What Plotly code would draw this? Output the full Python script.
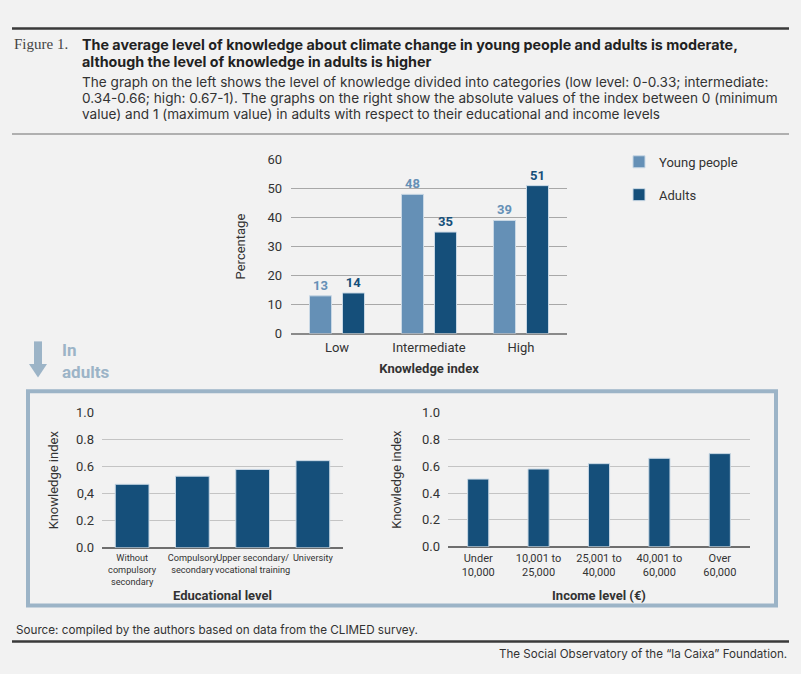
import plotly.graph_objects as go

W, H = 801, 674

# --- data ---
knowledge_levels = ["Low", "Intermediate", "High"]
young_pct = [13, 48, 39]
adults_pct = [14, 35, 51]

edu_levels = ["Without<br>compulsory<br>secondary", "Compulsory<br>secondary",
              "Upper secondary/<br>vocational training", "University"]
edu_index = [0.47, 0.53, 0.58, 0.645]

income_levels = ["Under<br>10,000", "10,001 to<br>25,000", "25,001 to<br>40,000",
                 "40,001 to<br>60,000", "Over<br>60,000"]
income_index = [0.505, 0.58, 0.62, 0.66, 0.695]

pct_ticks = [0, 10, 20, 30, 40, 50, 60]
idx_ticks = [0, 0.2, 0.4, 0.6, 0.8, 1.0]
idx_ticktext = ["0.0", "0.2", "0,4", "0.6", "0.8", "1.0"]
idx_ticktext_r = ["0.0", "0.2", "0.4", "0.6", "0.8", "1.0"]

title_lines = [
    "The average level of knowledge about climate change in young people and adults is moderate,",
    "although the level of knowledge in adults is higher",
]
note_lines = [
    "The graph on the left shows the level of knowledge divided into categories (low level: 0-0.33; intermediate:",
    "0.34-0.66; high: 0.67-1). The graphs on the right show the absolute values of the index between 0 (minimum",
    "value) and 1 (maximum value) in adults with respect to their educational and income levels",
]

LIGHT = "#6590b6"
DARK = "#154f7a"
FRAME = "#9cb4c7"
BG = "#f2f2f2"
TXT = "#333333"
SANS = "Roboto, Inter, sans-serif"
WIDE = "Inter, Roboto, sans-serif"
SERIF = "Liberation Serif, DejaVu Serif, serif"


def px(x):
    return x / W


def py(y):
    return 1 - y / H


fig = go.Figure()

fig.add_trace(go.Bar(
    x=knowledge_levels, y=young_pct, name="Young people",
    marker=dict(color=LIGHT, line=dict(color="#c9d8e5", width=1)),
    text=young_pct, textposition="outside", cliponaxis=False,
    textfont=dict(color=LIGHT, size=13, weight="bold", family=SANS),
    legendgroup="a", xaxis="x", yaxis="y"))
fig.add_trace(go.Bar(
    x=knowledge_levels, y=adults_pct, name="Adults",
    marker=dict(color=DARK, line=dict(color="#c9d8e5", width=1)),
    text=adults_pct, textposition="outside", cliponaxis=False,
    textfont=dict(color=DARK, size=13, weight="bold", family=SANS),
    legendgroup="b", xaxis="x", yaxis="y"))

fig.add_trace(go.Bar(
    x=edu_levels, y=edu_index, showlegend=False, width=0.56,
    marker=dict(color=DARK, line=dict(color="#c9d8e5", width=1)),
    xaxis="x2", yaxis="y2"))
fig.add_trace(go.Bar(
    x=income_levels, y=income_index, showlegend=False, width=0.35,
    marker=dict(color=DARK, line=dict(color="#c9d8e5", width=1)),
    xaxis="x3", yaxis="y3"))

tick_font = dict(family=SANS, size=13, color=TXT)
title_font = dict(family=SANS, size=13, color=TXT, weight="bold")

fig.update_layout(
    width=W, height=H,
    margin=dict(l=0, r=0, t=0, b=0),
    paper_bgcolor=BG, plot_bgcolor=BG,
    barmode="group", bargap=0.283, bargroupgap=0.333,
    font=dict(family=SANS, color=TXT),
    showlegend=True,
    legend=dict(x=px(619), y=py(143), xanchor="left", yanchor="top",
                bgcolor="rgba(0,0,0,0)", font=dict(family=SANS, size=13, color=TXT),
                tracegroupgap=13, itemclick=False),
    xaxis=dict(domain=[px(291), px(567)], anchor="y", showgrid=False,
               tickfont=tick_font, ticks="", ticklabelstandoff=4,
               title=dict(text="Knowledge index", font=title_font, standoff=10)),
    yaxis=dict(domain=[py(334), py(156)], anchor="x", range=[0, 60],
               tickvals=pct_ticks, tickfont=tick_font, ticks="",
               ticklabelstandoff=8, gridcolor="#a8a8a8", gridwidth=1,
               zeroline=True, zerolinecolor="#8a8a8a", zerolinewidth=2,
               title=dict(text="Percentage", font=dict(family=SANS, size=13, color=TXT),
                          standoff=18)),
    xaxis2=dict(domain=[px(102), px(343)], anchor="y2", showgrid=False,
                tickfont=dict(family=SANS, size=9.2, color=TXT), ticks="", tickangle=0,
                ticklabelstandoff=3,
                title=dict(text="Educational level", font=title_font, standoff=5)),
    yaxis2=dict(domain=[py(553), py(415)], anchor="x2", range=[0, 1],
                tickvals=idx_ticks, ticktext=idx_ticktext, tickfont=tick_font,
                ticks="", ticklabelstandoff=7, gridcolor="#c4c4c4",
                zeroline=True, zerolinecolor="#6e6e6e", zerolinewidth=1.5,
                title=dict(text="Knowledge index", font=dict(family=SANS, size=13, color=TXT),
                           standoff=14)),
    xaxis3=dict(domain=[px(448), px(750)], anchor="y3", showgrid=False,
                tickfont=dict(family=SANS, size=11, color=TXT), ticks="", tickangle=0,
                ticklabelstandoff=3,
                title=dict(text="Income level (€)", font=title_font, standoff=12)),
    yaxis3=dict(domain=[py(552), py(415)], anchor="x3", range=[0, 1],
                tickvals=idx_ticks, ticktext=idx_ticktext_r, tickfont=tick_font,
                ticks="", ticklabelstandoff=7, gridcolor="#c4c4c4",
                zeroline=True, zerolinecolor="#6e6e6e", zerolinewidth=1.5,
                title=dict(text="Knowledge index", font=dict(family=SANS, size=13, color=TXT),
                           standoff=17)),
)

# header / footer rules, frame and arrow
shapes = [
    dict(type="line", x0=px(12), x1=px(789), y0=py(22), y1=py(22),
         line=dict(color="#3a3a3a", width=2.5)),
    dict(type="line", x0=px(12), x1=px(789), y0=py(130), y1=py(130),
         line=dict(color="#9a9a9a", width=1.5)),
    dict(type="line", x0=px(12), x1=px(789), y0=py(649), y1=py(649),
         line=dict(color="#3a3a3a", width=2.5)),
    dict(type="rect", x0=px(28), x1=px(776), y0=py(393), y1=py(612),
         line=dict(color=FRAME, width=4)),
    dict(type="rect", x0=px(34), x1=px(42), y0=py(342), y1=py(366),
         fillcolor=FRAME, line=dict(width=0)),
    dict(type="path",
         path=f"M {px(29)},{py(365)} L {px(47)},{py(365)} L {px(38)},{py(379)} Z",
         fillcolor=FRAME, line=dict(width=0)),
]
fig.update_layout(shapes=[dict(s, xref="paper", yref="paper") for s in shapes])

annotations = [
    dict(x=px(12), y=py(38), text="Figure 1.", xanchor="left", yanchor="middle",
         font=dict(family=SERIF, size=15, color="#444444")),
    dict(x=px(60), y=py(339), text="<b>In<br>adults</b>", xanchor="left", yanchor="top",
         align="left", font=dict(family=SANS, size=17, color=FRAME)),
    dict(x=px(14), y=py(637), text="Source: compiled by the authors based on data from the CLIMED survey.",
         xanchor="left", yanchor="middle",
         font=dict(family=WIDE, size=11.7, color=TXT)),
    dict(x=px(789), y=py(662), text="The Social Observatory of the “la Caixa” Foundation.",
         xanchor="right", yanchor="middle",
         font=dict(family=WIDE, size=11.6, color=TXT)),
]
for line, y in zip(title_lines, [38, 56]):
    annotations.append(dict(x=px(80), y=py(y), text=f"<b>{line}</b>",
                            xanchor="left", yanchor="middle",
                            font=dict(family=WIDE, size=14.3, color="#222222")))
for line, y in zip(note_lines, [77, 93, 109]):
    annotations.append(dict(x=px(80), y=py(y), text=line,
                            xanchor="left", yanchor="middle",
                            font=dict(family=WIDE, size=13.6, color=TXT)))

fig.update_layout(annotations=[dict(a, xref="paper", yref="paper", showarrow=False)
                               for a in annotations])

fig.write_html("out.html", config={"displayModeBar": False},
               post_script="document.body.style.margin='0';")
